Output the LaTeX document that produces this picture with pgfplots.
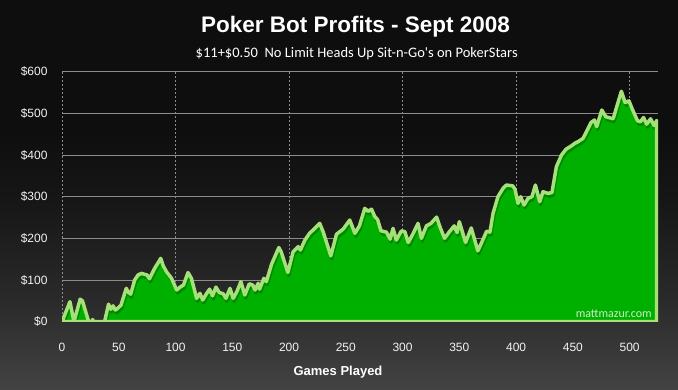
\documentclass[border=0pt]{standalone}
\usepackage{fontspec}
\setmainfont{Liberation Sans}
\newfontfamily\calibri{Carlito}
\usepackage{graphicx}
\usepackage{pgfplots}
\pgfplotsset{compat=1.18}
\usepackage{pgfplotstable}
\definecolor{areagreen}{RGB}{0,176,0}
\definecolor{linegreen}{RGB}{166,224,120}
\definecolor{shadowgreen}{RGB}{0,105,0}
\definecolor{gridgray}{RGB}{140,140,140}
\definecolor{txt}{RGB}{242,242,242}
\definecolor{wm}{RGB}{205,238,198}
\definecolor{bgA}{RGB}{67,67,67}
\definecolor{bgB}{RGB}{42,42,42}
\definecolor{bgC}{RGB}{22,22,22}
\definecolor{bgD}{RGB}{14,14,14}
\pgfdeclareverticalshading{bgshade}{100bp}{color(0bp)=(bgA); color(25bp)=(bgA); color(36.5bp)=(bgB); color(49.4bp)=(bgC); color(58.3bp)=(bgD); color(75bp)=(bgD); color(100bp)=(bgD)}

\pgfplotstableread{
x y
0 0
7 48
10.5 0
16 54
18 50
23.5 0
26 0
27 5
28 0
37.5 0
41 42
43 30
45 38
47 28
49 32
52 40
56.6 80
58.7 70
60.5 66
64 100
67 112
70 116
75 112
77 103
81.6 128
87 152
89 135
92 120
96.5 104
101 76
104 83
107 88
111 118
114 104
118.6 56
121.5 68
124 52
127 66
130 78
132.6 62
135.6 83
138.5 70
142 67
144.4 56
148 80
150.8 56
154 72
157.6 96
161 64
165 91
168 88
170 76
172.8 92
174 78
177.8 104
180 96
184.6 138
191 178
193 168
199 118
203.6 168
208 180
210 172
214 196
218 212
222.7 224
227 236
230 216
236.8 158
241.8 210
247.6 222
253.5 244
258 212
262 230
266.7 272
269.6 265
272.6 270
275.6 252
278 245
281 218
285.8 215
289 198
291.6 224
294.5 196
299 218
302 216
305 190
309 210
313.6 236
316.6 200
321 230
325 236
330 251
333 227
337 200
341 215
345.5 230
348 214
350 240
355.5 190
360.5 225
366.3 170
370 192
374 217
377 215
379.7 260
384 300
388.5 320
391.5 328
397 326
399 318
401.7 284
404 300
407 280
410.5 296
414 300
417 328
420.8 288
423.7 312
428 308
431.6 310
435.5 372
440 400
444 414
448.7 422
451.6 428
454.5 432
459 440
462 456
466 478
469 484
471 468
475.5 508
479 492
485.5 487
492.7 553
496 526
499.4 530
503 506
507 482
509.5 480
512.3 490
515 474
518.5 487
521.5 471
523.8 483
}\data

\begin{document}
\begin{tikzpicture}
\useasboundingbox (0,0) rectangle (678pt,390pt);
\shade[shading=bgshade] (0,0) rectangle (678pt,390pt);
\begin{axis}[
  at={(62pt,68.3pt)}, anchor=south west,
  scale only axis, width=596pt, height=250pt,
  xmin=0, xmax=525, ymin=0, ymax=600,
  xtick={0,50,100,150,200,250,300,350,400,450,500},
  xticklabels={0,50,100,150,200,250,300,350,400,450,500},
  ytick={0,100,200,300,400,500,600},
  yticklabels={\$0,\$100,\$200,\$300,\$400,\$500,\$600},
  minor xtick={0,100,200,300,400,500},
  ymajorgrids=true, xmajorgrids=false, xminorgrids=true,
  major grid style={draw=gridgray, line width=0.9pt},
  minor grid style={draw=gridgray, dash pattern=on 2pt off 2pt, line width=0.8pt},
  axis line style={draw=none},
  major tick length=0pt, minor tick length=0pt,
  tick label style={font=\fontsize{12}{14}\selectfont, text=txt},
  xticklabel style={anchor=base, yshift=-30.3pt},
  yticklabel style={anchor=base east, xshift=-11pt, yshift=-4.3pt},
]
\addplot[draw=none, fill=areagreen] table[x=x,y=y] {\data} \closedcycle;
\addplot[draw=shadowgreen, line width=3pt, opacity=0.55, yshift=-3pt, xshift=1pt, line join=round] table[x=x,y=y] {\data};
\addplot[draw=linegreen, line width=3.5pt, line join=round] table[x=x,y=y] {\data} \closedcycle;
\end{axis}
\node[anchor=base, text=white, font=\fontsize{22.5}{26}\selectfont\bfseries, inner sep=0] at (355.6pt,357pt) {Poker Bot Profits - Sept 2008};
\node[anchor=base, text=white, font=\calibri\fontsize{14.5}{17}\selectfont, inner sep=0] at (356.7pt,332.3pt) {\$11+\$0.50~ No Limit Heads Up Sit-n-Go's on PokerStars};
\node[anchor=base, text=white, font=\fontsize{13}{15}\selectfont\bfseries, inner sep=0] at (338pt,14.3pt) {Games Played};
\node[anchor=base east, text=wm, font=\calibri\fontsize{12}{14}\selectfont, inner sep=0] at (652pt,72pt) {mattmazur.com};
\end{tikzpicture}
\end{document}
